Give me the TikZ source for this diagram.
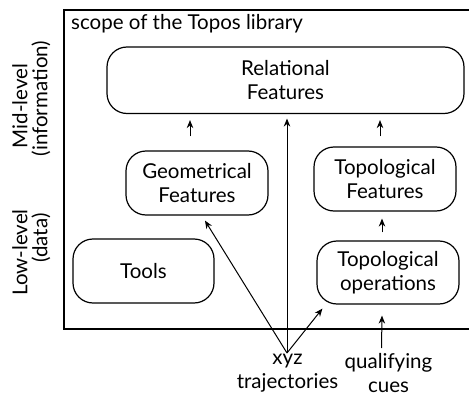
\documentclass[tikz,border=0pt]{standalone}
\usepackage{fontspec}
\setmainfont{Lato}
\usetikzlibrary{arrows.meta,calc}
\begin{document}
\begin{tikzpicture}[x=1pt,y=-1pt,
  every node/.style={font=\fontsize{20.5}{23.5}\selectfont},
  box/.style={draw, line width=1.2pt, rounded corners=20pt, align=center, inner sep=0pt},
  arr/.style={line width=1pt, -{Stealth[length=8pt,width=6.5pt]}},
  lbl/.style={align=center, inner sep=0pt}]
\useasboundingbox (0,0) rectangle (469,396);
% frame
\draw[line width=1.4pt] (490,10) -- (64,10) -- (64,329) -- (490,329);
\node[anchor=base west, inner sep=0pt] (scope) at (71,29.5) {scope of the Topos library};
% side labels
\node[rotate=90, inner sep=0pt] (mid1) at (20,106) {Mid-level};
\node[rotate=90, inner sep=0pt] (mid2) at (41,98.5) {(information)};
\node[rotate=90, inner sep=0pt] (low1) at (20,252.5) {Low-level};
\node[rotate=90, inner sep=0pt] (low2) at (41,238) {(data)};
% boxes
\node[box, minimum width=357pt, minimum height=66.5pt] (rel) at (285.5,80.25) {Relational\\Features};
\node[box, minimum width=142pt, minimum height=64pt] (geo) at (197,183) {Geometrical\\Features};
\node[box, minimum width=142pt, minimum height=64pt] (topf) at (385,179) {Topological\\Features};
\node[box, minimum width=141pt, minimum height=64pt] (tools) at (143.5,271) {Tools};
\node[box, minimum width=142pt, minimum height=63pt] (topo) at (388,272.5) {Topological\\operations};
% inputs
\node[lbl] (xyz) at (287.5,373) {xyz\\trajectories};
\node[lbl] (qual) at (388.5,373) {qualifying\\cues};
\coordinate (src) at (287,353);
% arrows
\draw[arr] (src) -- ([xshift=8pt,yshift=-5pt]geo.south);
\draw[arr] (src) -- ([yshift=-4.5pt]src |- rel.south);
\draw[arr] (src) -- ([xshift=6pt,yshift=-4pt]topo.south west);
\draw[arr, shorten <=14pt, shorten >=6pt] ([xshift=-7pt]geo.north) -- ([xshift=-7pt]geo.north |- rel.south);
\draw[arr, shorten <=10pt, shorten >=6pt] ([xshift=-5pt]topf.north) -- ([xshift=-5pt]topf.north |- rel.south);
\draw[arr, shorten <=8pt, shorten >=7pt] ([xshift=-6pt]topo.north) -- ([xshift=-6pt]topo.north |- topf.south);
\draw[arr] ([xshift=-6.5pt]topo.south |- 0,348) -- ([xshift=-6pt,yshift=-11pt]topo.south);
\end{tikzpicture}
\end{document}
